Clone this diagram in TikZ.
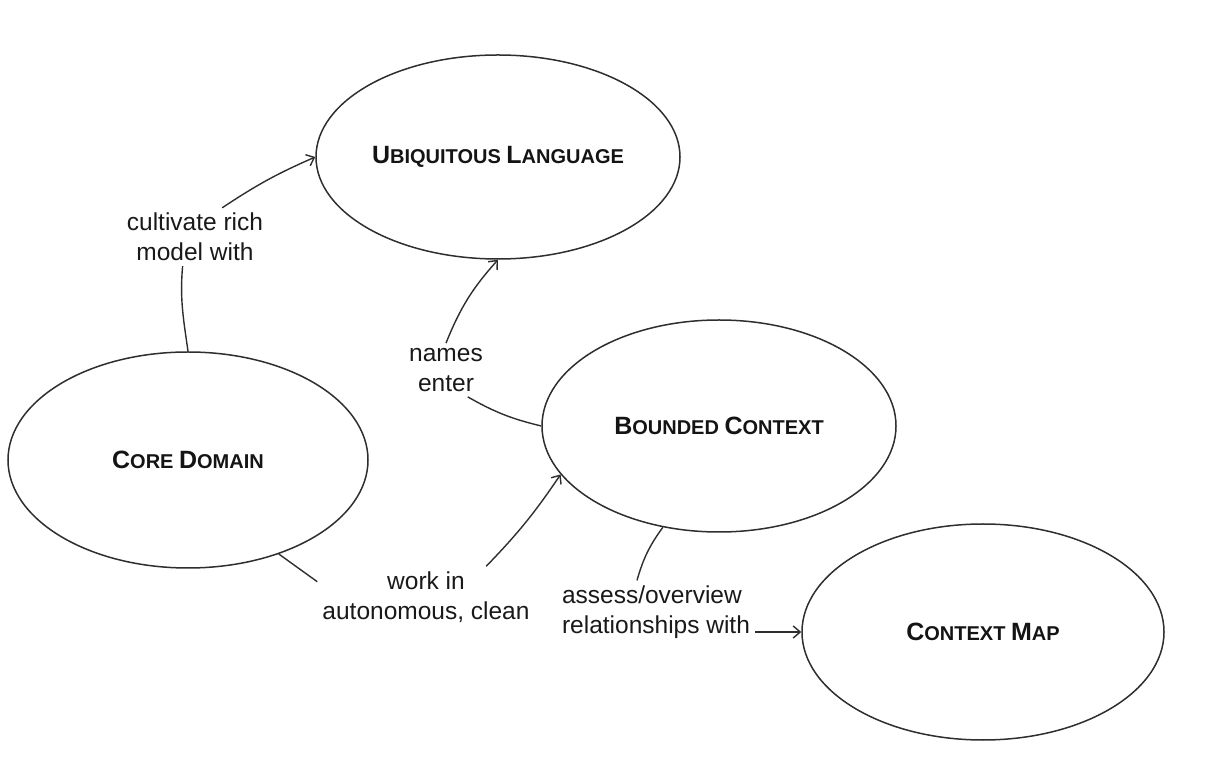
\documentclass[tikz,border=0pt]{standalone}
\usepackage{fontspec}
\setmainfont{Liberation Sans}
\usetikzlibrary{shapes.geometric,arrows.meta}

\newcommand\ScWord[2]{{\fontsize{25}{28}\selectfont #1}{\fontsize{20}{24}\selectfont #2}}

\begin{document}
\begin{tikzpicture}[x=1pt,y=1pt,>={Straight Barb[length=7pt,width=12pt]}]
        \tikzset{ConceptStyle/.style = {draw, ellipse,
            inner sep  = 0pt,
            line width = 1.5pt,
            draw       = black!82,
            font       = \bfseries\fontsize{20}{24}\selectfont,
            text       = black!92}}
        \tikzset{LabelStyle/.style = {align=center,
            inner sep = 5pt,
            font      = \fontsize{24.5}{30}\selectfont,
            text      = black!90}}
        \tikzset{EdgeStyle/.style = {line width=1.4pt, draw=black!82}}
        \useasboundingbox (0,0) rectangle (1230,776);
        \node[ConceptStyle, minimum width=364pt, minimum height=204pt] (UL) at (498,619) {\ScWord{U}{BIQUITOUS} \ScWord{L}{ANGUAGE}};
        \node[ConceptStyle, minimum width=360pt, minimum height=216pt] (CD) at (188,316) {\ScWord{C}{ORE} \ScWord{D}{OMAIN}};
        \node[ConceptStyle, minimum width=354pt, minimum height=212pt] (BC) at (719,350) {\ScWord{B}{OUNDED} \ScWord{C}{ONTEXT}};
        \node[ConceptStyle, minimum width=362pt, minimum height=216pt] (CM) at (983,144) {\ScWord{C}{ONTEXT} \ScWord{M}{AP}};
        \node[LabelStyle] (cult)   at (195,539) {cultivate rich\\model with};
        \node[LabelStyle] (names)  at (446,406) {names\\enter};
        \node[LabelStyle] (work)   at (426,179) {work in\\autonomous, clean};
        \node[LabelStyle, align=left] (assess) at (656,164) {assess/overview\\relationships with};
        \draw[EdgeStyle] (CD.north) to[out=98,in=-95] (cult.-113);
        \draw[EdgeStyle,->] (cult.47) to[bend left=5] (UL.west);
        \draw[EdgeStyle] (BC.west) to[bend left=8] (names.-51);
        \draw[EdgeStyle,->] (names.north) to[bend left=10] (UL.south);
        \draw[EdgeStyle] (CD.-46) -- (work.172);
        \draw[EdgeStyle,->] (work.27) to[bend right=5] (BC.197);
        \draw[EdgeStyle] (BC.241) to[bend right=10] (assess.121);
        \draw[EdgeStyle,->] (assess.east |- CM.west) -- (CM.west);
      \end{tikzpicture}
\end{document}
